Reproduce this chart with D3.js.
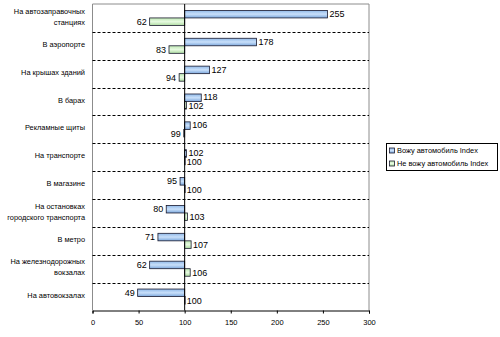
<!DOCTYPE html>
<html><head><meta charset="utf-8">
<script src="https://cdn.jsdelivr.net/npm/d3@7"></script>
<style>body{margin:0;background:#fff}svg{display:block}</style>
</head><body>
<svg id="c" width="500" height="337"></svg>
<script>
const categories = [
  ["На автозаправочных", "станциях"],
  ["В аэропорте"],
  ["На крышах зданий"],
  ["В барах"],
  ["Рекламные щиты"],
  ["На транспорте"],
  ["В магазине"],
  ["На остановках", "городского транспорта"],
  ["В метро"],
  ["На железнодорожных", "вокзалах"],
  ["На автовокзалах"]
];
const drivers = [255, 178, 127, 118, 106, 102, 95, 80, 71, 62, 49];
const nonDrivers = [62, 83, 94, 102, 99, 100, 100, 103, 107, 106, 100];
const seriesNames = ["Вожу автомобиль Index", "Не вожу автомобиль Index"];
const xTicks = [0, 50, 100, 150, 200, 250, 300];

const svg = d3.select("#c");
const L = 92.5, R = 369, T = 4, B = 310.5;
const x = d3.scaleLinear().domain([0, 300]).range([L, R]);
const y = d3.scaleBand().domain(d3.range(categories.length)).range([T, B]);
const inner = d3.scaleBand().domain([0, 1]).range([0, y.bandwidth()]).paddingOuter(0.85).paddingInner(0);

const defs = svg.append("defs");
function grad(id, c1, c2, c3) {
  const g = defs.append("linearGradient").attr("id", id).attr("x1", 0).attr("y1", 0).attr("x2", 0).attr("y2", 1);
  g.append("stop").attr("offset", "0%").attr("stop-color", c1);
  g.append("stop").attr("offset", "50%").attr("stop-color", c2);
  g.append("stop").attr("offset", "100%").attr("stop-color", c3);
}
grad("gb", "#8fb8e8", "#c9e0fa", "#7aa6dc");
grad("gg", "#bfe8b4", "#e6fae0", "#aedca2");
const fills = ["url(#gb)", "url(#gg)"];

// plot border (left, top, right)
svg.append("path").attr("d", `M${L},${B}V${T}H${R}V${B}`).attr("fill", "none").attr("stroke", "#8c8c8c").attr("stroke-width", 1);

// dashed separators
svg.append("g").selectAll("line").data(d3.range(1, categories.length)).join("line")
  .attr("x1", L).attr("x2", R)
  .attr("y1", i => Math.round(y(i)) + 0.5).attr("y2", i => Math.round(y(i)) + 0.5)
  .attr("stroke", "#000").attr("stroke-width", 1).attr("stroke-dasharray", "3,2");

// bars
const series = [drivers, nonDrivers];
series.forEach((vals, s) => {
  const g = svg.append("g");
  g.selectAll("rect").data(vals).join("rect")
    .attr("x", d => Math.min(x(d), x(100)))
    .attr("width", d => Math.max(Math.abs(x(d) - x(100)), 0.5))
    .attr("y", (d, i) => y(i) + inner(s))
    .attr("height", inner.bandwidth())
    .attr("fill", fills[s]).attr("stroke", "#1a1a2e").attr("stroke-width", 0.8);
  g.selectAll("text").data(vals).join("text")
    .attr("x", d => d < 100 ? x(d) - 3 : x(d) + 2)
    .attr("y", (d, i) => y(i) + inner(s) + inner.bandwidth() / 2 + (s === 0 ? -0.5 : 0.5))
    .attr("dy", "0.36em")
    .attr("text-anchor", d => d < 100 ? "end" : "start")
    .attr("font-family", "Liberation Sans, Arial, sans-serif").attr("font-size", 9)
    .attr("fill", "#000").text(d => d);
});

// baseline at 100
svg.append("line").attr("x1", x(100)).attr("x2", x(100)).attr("y1", T).attr("y2", B)
  .attr("stroke", "#000").attr("stroke-width", 1);

// x axis
const ax = svg.append("g").attr("transform", `translate(0,${B})`)
  .call(d3.axisBottom(x).tickValues(xTicks).tickSize(3).tickPadding(6));
ax.select(".domain").attr("stroke", "#000");
ax.selectAll("line").attr("stroke", "#000");
ax.selectAll("text").attr("font-family", "Liberation Sans, Arial, sans-serif").attr("font-size", 7.5).attr("fill", "#000");

// category labels
const cl = svg.append("g");
categories.forEach((lines, i) => {
  const cy = y(i) + y.bandwidth() / 2;
  const t = cl.append("text").attr("x", 85).attr("text-anchor", "end")
    .attr("font-family", "Liberation Sans, Arial, sans-serif").attr("font-size", 7.4).attr("fill", "#000");
  const lh = 11;
  lines.forEach((ln, k) => {
    t.append("tspan").attr("x", 85)
      .attr("y", cy - (lines.length - 1) * lh / 2 + k * lh - 1.5)
      .attr("dy", "0.35em").text(ln);
  });
});

// legend
const lg = svg.append("g").attr("transform", "translate(386,143)");
lg.append("rect").attr("x", 0.5).attr("y", 0.5).attr("width", 111).attr("height", 27)
  .attr("fill", "#fff").attr("stroke", "#000").attr("stroke-width", 1);
seriesNames.forEach((n, s) => {
  const yy = 7.5 + s * 13;
  lg.append("rect").attr("x", 3.5).attr("y", yy - 2.5).attr("width", 5).attr("height", 5)
    .attr("fill", fills[s]).attr("stroke", "#1a1a2e").attr("stroke-width", 0.8);
  lg.append("text").attr("x", 11).attr("y", yy).attr("dy", "0.35em")
    .attr("font-family", "Liberation Sans, Arial, sans-serif").attr("font-size", 7.4).attr("fill", "#000").text(n);
});
</script>
</body></html>
